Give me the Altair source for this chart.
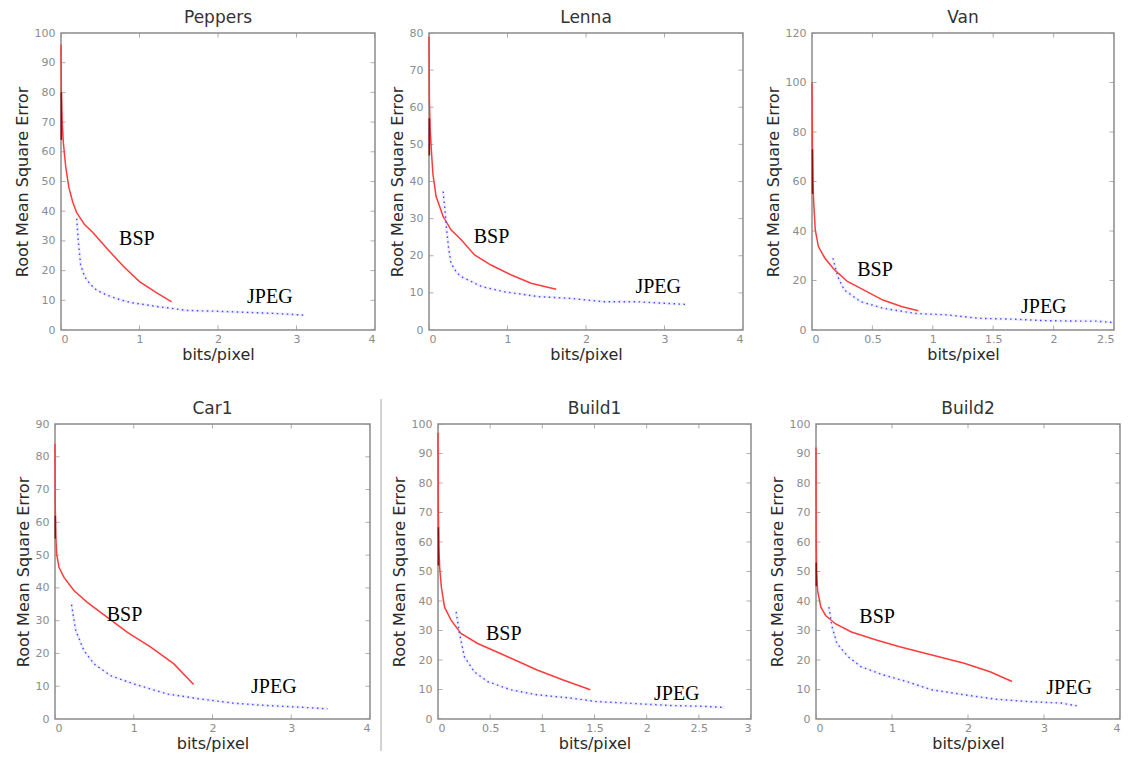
import altair as alt
import pandas as pd

# ---------------- data ----------------
titles = ["Peppers", "Lenna", "Van", "Car1", "Build1", "Build2"]

peppers_bsp_x = [0, 0.005, 0.015, 0.03, 0.06, 0.1, 0.15, 0.2, 0.3, 0.4, 0.6, 0.8, 1.0, 1.2, 1.41]
peppers_bsp_y = [96, 80, 70, 63, 55, 48, 43, 39.5, 35.5, 33, 27, 21.3, 16.3, 12.8, 9.5]
peppers_jpeg_x = [0.2, 0.22, 0.25, 0.3, 0.37, 0.45, 0.58, 0.75, 0.9, 1.2, 1.6, 2.0, 2.3, 2.7, 3.1]
peppers_jpeg_y = [37.5, 30, 22, 18, 15.5, 13.5, 11.8, 10.2, 9.2, 8, 6.6, 6.3, 6, 5.6, 5]

lenna_bsp_x = [0, 0.005, 0.015, 0.03, 0.05, 0.09, 0.18, 0.28, 0.41, 0.58, 0.79, 1.05, 1.3, 1.62]
lenna_bsp_y = [79, 62, 54, 48.5, 42, 36, 30.6, 27, 24.3, 20.2, 17.5, 14.8, 12.6, 11]
lenna_jpeg_x = [0.18, 0.2, 0.22, 0.25, 0.28, 0.35, 0.41, 0.67, 0.96, 1.39, 1.81, 2.23, 2.66, 3.0, 3.27]
lenna_jpeg_y = [37.3, 33, 28, 22, 18, 15.5, 14.4, 11.7, 10.3, 9, 8.5, 7.6, 7.6, 7.2, 6.9]

van_bsp_x = [0, 0.003, 0.008, 0.013, 0.027, 0.053, 0.107, 0.187, 0.293, 0.427, 0.587, 0.747, 0.88]
van_bsp_y = [100, 75, 60, 52.6, 40.4, 33.7, 29, 24.3, 19.6, 16.2, 12.1, 9.4, 7.8]
van_jpeg_x = [0.173, 0.213, 0.267, 0.4, 0.587, 0.854, 1.12, 1.39, 1.65, 1.92, 2.19, 2.35, 2.5]
van_jpeg_y = [29, 21.6, 16.2, 11.5, 8.8, 6.7, 6.1, 4.7, 4.4, 3.8, 3.6, 3.6, 3]

car1_bsp_x = [0, 0.003, 0.01, 0.021, 0.051, 0.114, 0.24, 0.41, 0.665, 0.92, 1.216, 1.51, 1.76]
car1_bsp_y = [84, 65, 56, 50.3, 46.3, 43.2, 39.2, 35.6, 31, 26.4, 21.9, 16.8, 10.5]
car1_jpeg_x = [0.21, 0.263, 0.369, 0.496, 0.708, 1.0, 1.43, 1.85, 2.28, 2.7, 3.12, 3.46]
car1_jpeg_y = [34.9, 27, 20.8, 16.8, 13.2, 10.7, 7.6, 6.1, 4.8, 4.1, 3.6, 3.1]

build1_bsp_x = [0, 0.003, 0.008, 0.016, 0.032, 0.063, 0.127, 0.22, 0.38, 0.63, 0.95, 1.2, 1.46]
build1_bsp_y = [97, 70, 58, 51.4, 44.7, 37.9, 33.4, 29, 25.6, 21.7, 16.6, 13.2, 9.9]
build1_jpeg_x = [0.174, 0.206, 0.253, 0.348, 0.475, 0.696, 0.95, 1.27, 1.52, 1.9, 2.22, 2.53, 2.75]
build1_jpeg_y = [36.3, 29, 21.1, 16, 12.7, 9.9, 8.2, 7.1, 5.9, 5.2, 4.6, 4.3, 3.9]

build2_bsp_x = [0, 0.003, 0.008, 0.021, 0.064, 0.127, 0.254, 0.466, 0.805, 1.1, 1.525, 1.95, 2.29, 2.58]
build2_bsp_y = [92, 60, 50, 43.5, 37.9, 35.1, 32.3, 29.5, 26.7, 24.5, 21.7, 18.9, 16, 12.7]
build2_jpeg_x = [0.17, 0.212, 0.275, 0.424, 0.593, 0.89, 1.19, 1.525, 1.95, 2.37, 2.8, 3.22, 3.43]
build2_jpeg_y = [37.9, 31.2, 25.6, 21.1, 17.7, 14.9, 12.7, 9.9, 8.2, 6.7, 5.9, 5.4, 4.5]

# darker overlapping stretch of the BSP curve near x = 0 (top, bottom)
bsp_dark_top = [80, 57, 73, 62, 65, 53]
bsp_dark_bottom = [64, 47, 55, 55, 52, 45]

# axis tick labels
peppers_xticks = [0, 1, 2, 3, 4]
peppers_yticks = [0, 10, 20, 30, 40, 50, 60, 70, 80, 90, 100]
lenna_xticks = [0, 1, 2, 3, 4]
lenna_yticks = [0, 10, 20, 30, 40, 50, 60, 70, 80]
van_xticks = [0, 0.5, 1, 1.5, 2, 2.5]
van_yticks = [0, 20, 40, 60, 80, 100, 120]
car1_xticks = [0, 1, 2, 3, 4]
car1_yticks = [0, 10, 20, 30, 40, 50, 60, 70, 80, 90]
build1_xticks = [0, 0.5, 1, 1.5, 2, 2.5, 3]
build1_yticks = [0, 10, 20, 30, 40, 50, 60, 70, 80, 90, 100]
build2_xticks = [0, 1, 2, 3, 4]
build2_yticks = [0, 10, 20, 30, 40, 50, 60, 70, 80, 90, 100]

# in-plot labels (x, y in data units: left edge, baseline)
bsp_label_x = [0.74, 0.57, 0.374, 0.657, 0.46, 0.57]
bsp_label_y = [28.6, 23.4, 21.8, 29.8, 26.9, 32.5]
jpeg_label_x = [2.37, 2.63, 1.73, 2.49, 2.07, 3.03]
jpeg_label_y = [9.1, 10.1, 6.7, 7.8, 6.5, 8.4]

series_names = ["BSP", "JPEG"]

bsp_x = [peppers_bsp_x, lenna_bsp_x, van_bsp_x, car1_bsp_x, build1_bsp_x, build2_bsp_x]
bsp_y = [peppers_bsp_y, lenna_bsp_y, van_bsp_y, car1_bsp_y, build1_bsp_y, build2_bsp_y]
jpeg_x = [peppers_jpeg_x, lenna_jpeg_x, van_jpeg_x, car1_jpeg_x, build1_jpeg_x, build2_jpeg_x]
jpeg_y = [peppers_jpeg_y, lenna_jpeg_y, van_jpeg_y, car1_jpeg_y, build1_jpeg_y, build2_jpeg_y]
xticks = [peppers_xticks, lenna_xticks, van_xticks, car1_xticks, build1_xticks, build2_xticks]
yticks = [peppers_yticks, lenna_yticks, van_yticks, car1_yticks, build1_yticks, build2_yticks]

SANS = "DejaVu Sans"
SERIF = "Liberation Serif"
FRAME = "#8c8c8c"


def panel(i, width, height, ytitle_pad=4):
    xt, yt = xticks[i], yticks[i]
    xmax, ymax = xt[-1], yt[-1]
    xs = alt.Scale(domain=[0, xmax], nice=False, zero=False)
    ys = alt.Scale(domain=[0, ymax], nice=False, zero=False)
    xaxis = alt.Axis(values=xt, title="bits/pixel", labelExpr="'' + datum.value",
                     grid=False, ticks=False, domain=False, labelPadding=3,
                     titlePadding=2, labelOverlap=False)
    yaxis = alt.Axis(values=yt, title="Root Mean Square Error", grid=False,
                     ticks=False, domain=False, labelPadding=6,
                     titlePadding=ytitle_pad, labelOverlap=False)
    X = alt.X("x:Q", scale=xs, axis=xaxis)
    Y = alt.Y("y:Q", scale=ys, axis=yaxis)

    bsp = pd.DataFrame({"x": bsp_x[i], "y": bsp_y[i], "o": range(len(bsp_x[i]))})
    jpg = pd.DataFrame({"x": jpeg_x[i], "y": jpeg_y[i], "o": range(len(jpeg_x[i]))})
    dark = pd.DataFrame({"x": [0.004], "y": [bsp_dark_top[i]], "y2": [bsp_dark_bottom[i]]})

    red = alt.Chart(bsp).mark_line(color="#ff3b3b", strokeWidth=1.5).encode(
        x=X, y=Y, order="o:Q")
    red_dark = alt.Chart(dark).mark_rule(color="#8a1010", strokeWidth=1.6).encode(
        x=X, y=Y, y2="y2:Q")
    blue_halo = alt.Chart(jpg).mark_line(color="#b0b0ff", strokeWidth=3, opacity=0.2).encode(
        x=X, y=Y, order="o:Q")
    blue = alt.Chart(jpg).mark_line(color="#4646ff", strokeWidth=1.4,
                                    strokeDash=[1.5, 3.5]).encode(
        x=X, y=Y, order="o:Q")

    labels = pd.DataFrame({
        "x": [bsp_label_x[i], jpeg_label_x[i]],
        "y": [bsp_label_y[i], jpeg_label_y[i]],
        "t": series_names,
    })
    txt = alt.Chart(labels).mark_text(font=SERIF, fontSize=20, align="left",
                                      baseline="alphabetic", color="black").encode(
        x=X, y=Y, text="t:N")

    # inward MATLAB-style ticks on all four sides
    xtd = pd.DataFrame({"x": xt * 2, "y": [0] * len(xt) + [ymax] * len(xt)})
    ytd = pd.DataFrame({"x": [0] * len(yt) + [xmax] * len(yt), "y": yt * 2})
    xtm = alt.Chart(xtd).mark_tick(orient="vertical", size=9, thickness=1,
                                   color=FRAME, clip=True).encode(x=X, y=Y)
    ytm = alt.Chart(ytd).mark_tick(orient="horizontal", size=9, thickness=1,
                                   color=FRAME, clip=True).encode(x=X, y=Y)

    return alt.layer(xtm, ytm, red, red_dark, blue_halo, blue, txt).properties(
        width=width, height=height,
        title=alt.TitleParams(titles[i], fontSize=17, font=SANS, fontWeight="normal",
                              color="#333333", offset=0),
    )


def divider(height):
    return alt.Chart(pd.DataFrame({"d": [0]})).mark_rule(
        color="#a8a8a8", strokeWidth=1).encode(
        x=alt.value(0), y=alt.value(-25), y2=alt.value(height + 32)
    ).properties(width=1, height=height, view=alt.ViewBackground(strokeOpacity=0))


def spacer(height):
    # invisible 1px cell that anchors each row at the left edge
    return alt.Chart(pd.DataFrame({"d": [0]})).mark_rule(
        opacity=0, strokeWidth=1).encode(
        x=alt.value(0.5), y=alt.value(0), y2=alt.value(1)
    ).properties(width=1, height=height, view=alt.ViewBackground(strokeOpacity=0))


H_TOP = 297
H_BOT = 295

top = alt.hconcat(
    alt.hconcat(
        alt.hconcat(spacer(H_TOP), panel(0, 314, H_TOP), spacing=4),
        panel(1, 314, H_TOP),
        spacing=12,
    ),
    panel(2, 302, H_TOP),
    spacing=20,
)
bottom = alt.hconcat(
    alt.hconcat(
        alt.hconcat(
            alt.hconcat(spacer(H_BOT), panel(3, 315, H_BOT), spacing=5),
            divider(H_BOT),
            spacing=9,
        ),
        panel(4, 313, H_BOT),
        spacing=8,
    ),
    panel(5, 304, H_BOT),
    spacing=16,
)

chart = alt.concat(top, bottom, columns=1, spacing=35).properties(
    padding={"left": 0, "top": 0, "right": 0, "bottom": 0},
    background="white",
).configure_view(
    stroke=FRAME, strokeWidth=1.5
).configure_axis(
    labelFont=SANS, labelFontSize=11, labelColor="#8c8c8c",
    titleFont=SANS, titleFontSize=16, titleColor="#2a2a2a", titleFontWeight="normal",
)

chart.save("out.html", embed_options={"renderer": "svg", "actions": False})
